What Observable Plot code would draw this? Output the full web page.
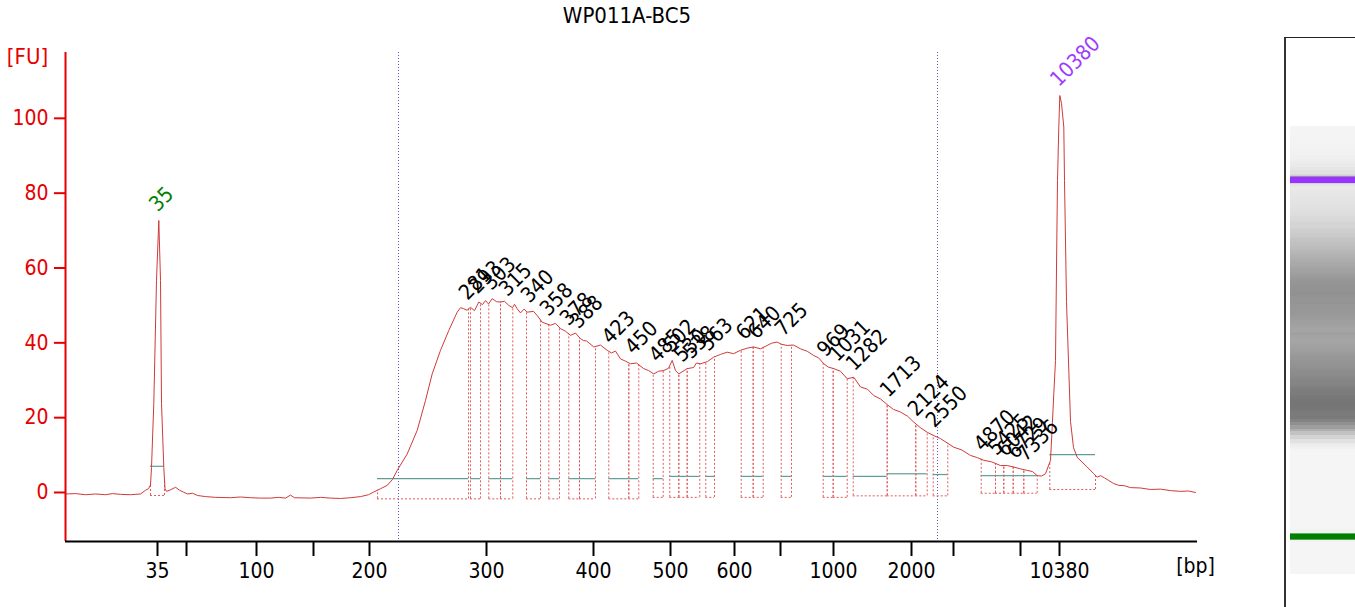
<!DOCTYPE html>
<html><head><meta charset="utf-8">
<script src="https://cdn.jsdelivr.net/npm/d3@7"></script>
<script src="https://cdn.jsdelivr.net/npm/@observablehq/plot@0.6"></script>
<style>
body{margin:0;background:#fff;width:1355px;height:607px;overflow:hidden;position:relative;font-family:"DejaVu Sans Condensed","DejaVu Sans",sans-serif;}
#title{position:absolute;left:0;width:1254px;top:3px;text-align:center;font-size:22px;color:#000;}
#main{position:absolute;left:0;top:0;}
#gel{position:absolute;left:1284px;top:37px;width:71px;height:570px;border-left:2px solid #333;border-top:1px solid #222;box-sizing:border-box;overflow:hidden;}
svg{overflow:visible;}
</style></head><body>
<div id="main"></div><div id="gel"></div><div id="title">WP011A-BC5</div>
<script>
// ---- electropherogram trace: migration time (s) and fluorescence (FU)
const traceTime = [40.0,41.0,42.0,43.0,44.0,44.7,45.5,46.5,47.5,48.0,
  48.3,48.5,48.6,48.83,49.1,49.33,49.5,49.6,49.83,49.95,
  50.1,50.5,51.0,51.4,51.8,52.2,52.7,53.2,54.0,55.0,
  56.5,57.5,58.5,59.5,60.5,61.3,62.0,62.5,62.9,64.5,
  65.5,66.5,67.5,68.5,69.5,70.3,70.8,71.5,72.17,72.7,
  73.17,74.17,75.17,76.0,76.67,77.5,78.33,79.17,79.5,79.83,
  80.15,80.5,80.9,81.33,81.7,82.0,82.3,82.67,83.1,83.5,
  83.9,84.33,84.7,84.9,85.17,85.5,85.85,86.17,86.8,87.2,
  87.67,88.5,89.0,89.5,90.0,90.5,91.0,91.5,91.8,92.1,
  92.83,93.5,94.17,94.6,95.0,95.5,96.0,96.5,97.1,97.83,
  98.3,98.83,99.3,99.83,100.3,100.67,101.0,101.33,102.17,102.8,
  103.1,103.5,104.2,104.83,105.5,106.17,106.8,107.5,108.2,108.83,
  109.5,110.17,110.6,111.17,111.6,112.17,112.8,113.5,114.2,114.83,
  115.3,115.83,116.3,116.83,117.5,118.17,118.83,119.5,120.2,120.83,
  121.5,122.17,122.8,123.5,124.2,124.83,125.5,126.17,126.83,127.5,
  128.83,129.6,130.5,131.2,131.83,132.6,133.5,134.2,134.83,135.5,
  136.17,136.7,137.17,137.6,138.0,138.5,138.67,138.83,139.0,139.1,
  139.2,139.33,139.43,139.6,139.83,139.9,140.1,140.5,140.8,141.17,
  142.17,142.83,143.17,143.5,143.9,144.33,144.8,145.33,145.9,146.5,
  147.5,148.5,149.5,150.5,151.5,152.3,153.0];
const traceFU = [-0.4,-0.3,-0.6,-0.4,-0.6,-0.3,-0.5,-0.6,-0.4,0.6,
  1.0,2.0,6.7,23.8,56.7,72.7,56.7,23.8,6.7,1.0,
  0.3,0.7,1.4,0.6,0.1,-0.4,-0.2,-0.8,-1.1,-1.3,
  -1.4,-1.2,-1.4,-1.5,-1.5,-1.3,-1.5,-0.7,-1.4,-1.5,
  -1.3,-1.5,-1.6,-1.4,-1.1,-0.6,0.1,1.0,1.9,3.5,
  5.9,10.3,16.6,24.6,31.7,38.0,43.3,48.2,49.4,49.1,
  48.7,49.5,48.6,50.9,50.2,51.3,50.4,51.8,51.0,50.9,
  51.1,50.0,49.4,50.3,49.1,48.0,49.0,48.2,48.4,47.2,
  45.5,44.7,45.2,43.8,43.1,42.0,42.6,41.1,40.6,40.5,
  38.9,39.4,38.0,37.3,37.8,35.7,35.1,34.4,34.6,33.1,
  32.6,31.7,32.4,32.6,33.2,35.3,32.6,31.7,33.1,33.4,
  34.6,34.4,35.0,36.2,36.9,37.5,37.1,38.0,38.6,38.9,
  38.4,39.3,39.9,40.2,39.6,39.3,39.4,38.4,37.7,36.6,
  36.0,34.4,33.5,33.1,32.4,30.4,30.8,28.2,27.6,25.9,
  25.0,23.5,22.2,21.5,20.4,18.8,17.3,16.1,15.2,14.4,
  12.1,11.4,9.9,9.3,8.6,8.2,7.2,7.2,6.8,6.3,
  5.9,5.6,4.5,4.4,5.0,8.6,17.5,26.4,35.3,60.0,
  83.4,97.7,106.1,104.0,97.7,83.4,51.0,19.0,12.0,9.4,
  6.8,5.0,4.1,4.5,3.9,3.2,2.4,1.9,1.8,1.3,
  1.2,0.8,0.9,0.5,0.3,0.4,0.0];

// ---- ladder (x-axis ticks)
const ladderBp    = [35,50,100,150,200,300,400,500,600,700,1000,2000,3000,7000,10380];
const ladderTime  = [49.2,52.1,59.1,64.8,70.4,82.1,92.8,100.5,106.9,111.5,116.8,124.6,128.8,135.5,139.4];
const ladderLabel = ["35","","100","","200","300","400","500","600","","1000","2000","","","10380"];

// ---- detected peaks
const peakLabel = ["35","281","293","303","315","340","358","378","388","423","450","485","502","530","538","563","621","640","725","969","1031","1282","1713","2124","2550","4870","5425","6042","6729","7336","10380"];
const peakTime  = [49.33,80.3,81.3,82.7,84.3,86.5,88.4,90.4,91.4,94.6,96.9,99.3,100.7,101.8,102.7,104.4,108.0,109.2,111.9,116.1,117.3,119.0,122.4,125.2,127.0,131.8,133.2,134.1,135.1,136.1,139.43];
const peakStart = [48.5,71.2,80.5,82.33,83.5,86.1,88.33,90.33,91.4,94.33,96.33,98.77,100.43,101.33,102.17,104.03,107.57,108.77,111.57,115.77,116.77,118.77,122.17,125.03,126.77,131.57,133.0,133.83,134.77,135.83,138.43];
const peakEnd   = [49.9,80.3,81.5,83.5,84.73,87.5,89.4,91.4,93.0,96.33,97.33,99.77,101.33,102.17,103.43,104.9,108.77,109.77,112.6,116.77,118.17,122.17,125.03,126.17,128.23,133.0,133.83,134.77,135.83,137.17,143.0];
const peakBase  = [7.0,3.7,3.7,3.7,3.7,3.7,3.7,3.7,3.7,3.7,3.7,3.7,4.3,4.3,4.3,4.3,4.3,4.3,4.3,4.3,4.3,4.3,5.0,5.0,4.8,4.5,4.5,4.5,4.5,4.5,10.1];
const peakFloor = [-0.8,-1.7,-1.7,-1.7,-1.7,-1.7,-1.7,-1.7,-1.7,-1.7,-1.7,-1.3,-1.3,-1.3,-1.3,-1.3,-1.3,-1.3,-1.3,-1.3,-1.3,-0.9,-0.9,-0.9,-0.9,-0.2,-0.2,-0.2,-0.2,-0.2,0.8];
const peakKind  = ["lower","","","","","","","","","","","","","","","","","","","","","","","","","","","","","","upper"];

// ---- region markers (blue dotted)
const regionTime = [73.3, 127.2];

const xDomain = [40, 153.2];
const yDomain = [-13.1, 117.6];

const trace = d3.sort(traceTime.map((t, i) => ({t, fu: traceFU[i]})), d => d.t);
const bis = d3.bisector(d => d.t).left;
function fuAt(t) {
  let i = bis(trace, t);
  if (i <= 0) return trace[0].fu;
  if (i >= trace.length) return trace[trace.length - 1].fu;
  const a = trace[i - 1], b = trace[i];
  return a.fu + (b.fu - a.fu) * (t - a.t) / (b.t - a.t);
}
const kindColor = {lower: "#008000", upper: "#9d3cff", "": "#000"};
const peaks = peakLabel.map((label, i) => ({
  label, t: peakTime[i], fu: fuAt(peakTime[i]), start: peakStart[i], end: peakEnd[i],
  base: peakBase[i], floor: peakFloor[i], kind: peakKind[i]
}));
const bounds = peaks.flatMap(p => [
  {t: p.start, y1: p.floor, y2: fuAt(p.start)},
  {t: p.end, y1: p.floor, y2: fuAt(p.end)}
]);
const tickText = new Map(ladderTime.map((t, i) => [t, ladderLabel[i]]));

const FONT = '"DejaVu Sans Condensed", "DejaVu Sans", sans-serif';
const RED = "#e60000";
const DOT = "#e05a5a";
const FS = 21;

const main = Plot.plot({
  width: 1280, height: 607,
  marginLeft: 65, marginRight: 83, marginTop: 52, marginBottom: 66,
  style: {fontFamily: FONT, fontSize: FS + "px", background: "transparent", overflow: "visible"},
  x: {domain: xDomain},
  y: {domain: yDomain},
  marks: [
    Plot.ruleX(regionTime, {stroke: "#5a5acc", strokeWidth: 1, strokeDasharray: "1,2"}),
    Plot.ruleX(bounds, {x: "t", y1: "y1", y2: "y2", stroke: DOT, strokeWidth: 1, strokeDasharray: "2,2"}),
    Plot.ruleY(peaks, {y: "floor", x1: "start", x2: "end", stroke: DOT, strokeWidth: 1, strokeDasharray: "2,2"}),
    Plot.ruleY(peaks, {y: "base", x1: "start", x2: "end", stroke: "#5f9e96", strokeWidth: 1.2}),
    Plot.line(trace, {x: "t", y: "fu", stroke: "#cf3a3a", strokeWidth: 1}),
    Plot.text(peaks, {x: "t", y: "fu", text: "label", rotate: -45, textAnchor: "start", lineAnchor: "bottom",
      dx: -1, dy: -8, fontSize: FS, fontFamily: FONT, fill: d => kindColor[d.kind]}),
    Plot.axisY({ticks: [0, 20, 40, 60, 80, 100], tickSize: 11, tickPadding: 6, stroke: RED, fill: RED,
      strokeWidth: 2, fontSize: FS, label: null}),
    Plot.axisX({ticks: ladderTime, tickFormat: d => tickText.get(d), tickSize: 15, tickPadding: 7,
      strokeWidth: 2, fontSize: FS, label: null}),
    Plot.ruleX([xDomain[0]], {stroke: RED, strokeWidth: 2}),
    Plot.ruleY([yDomain[0]], {stroke: "#000", strokeWidth: 2}),
    Plot.text(["[FU]"], {frameAnchor: "top-left", dx: -38, dy: -4, textAnchor: "middle", fill: RED, fontSize: 22, fontFamily: FONT}),
    Plot.text(["[bp]"], {frameAnchor: "bottom-right", dx: -2, dy: 31, textAnchor: "middle", fill: "#000", fontSize: FS, fontFamily: FONT})
  ]
});
document.getElementById("main").appendChild(main);

// ---- gel-like lane
const segs = trace.slice(1).map((b, i) => ({t1: trace[i].t, t2: b.t, fu: (trace[i].fu + b.fu) / 2}));
const bands = peaks.filter(p => p.kind !== "");
const gel = Plot.plot({
  width: 69, height: 569,
  marginLeft: 4, marginRight: 0, marginTop: 87.4, marginBottom: 33.6,
  style: {background: "transparent"},
  x: {axis: null},
  y: {domain: xDomain, axis: null},
  color: {type: "linear", domain: [0, 55], range: ["#f5f5f5", "#6c6c6c"], clamp: true},
  marks: [
    Plot.frame({fill: "#f5f5f5", stroke: null}),
    Plot.rect(segs, {y1: "t1", y2: "t2", fill: "fu", stroke: "fu", strokeWidth: 1, shapeRendering: "crispEdges"}),
    Plot.rect(bands, {y1: d => d.t - 0.78, y2: d => d.t + 0.78, fill: d => d.kind === "upper" ? "#9933ff" : "#008000"})
  ]
});
document.getElementById("gel").appendChild(gel);
</script>
</body></html>
